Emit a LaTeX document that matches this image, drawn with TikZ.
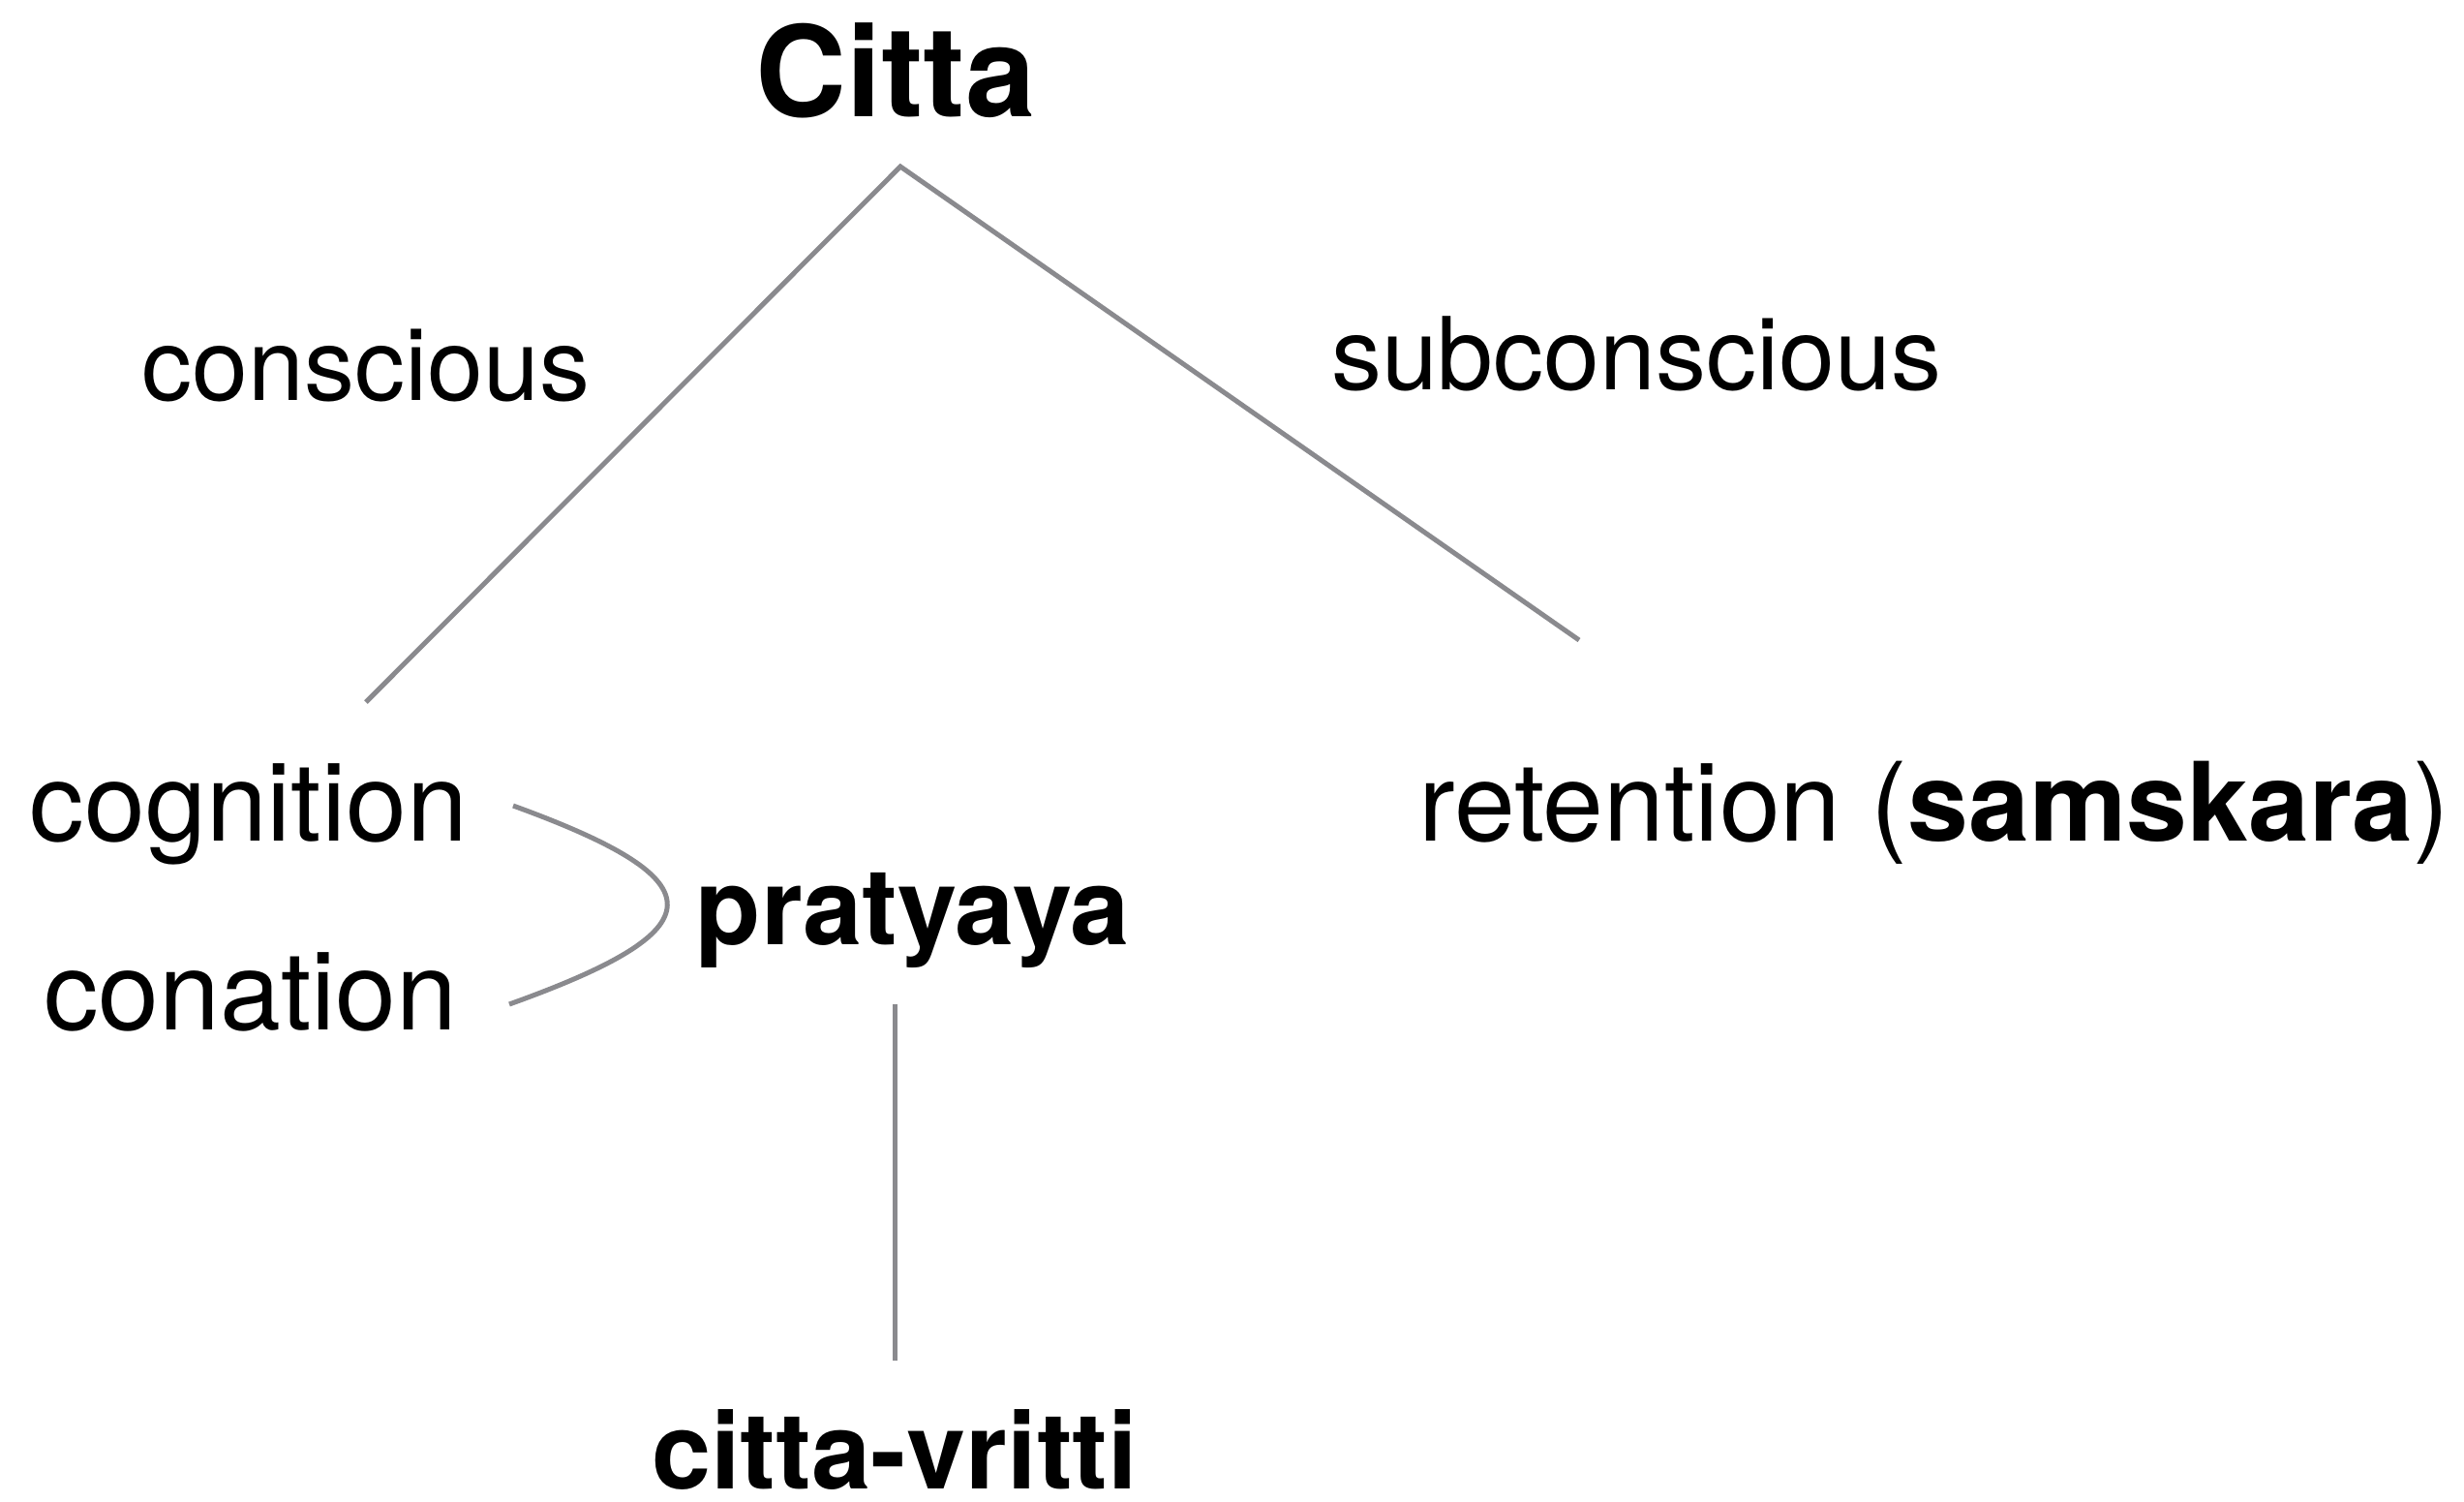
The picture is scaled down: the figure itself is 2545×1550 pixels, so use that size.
\documentclass[tikz,border=0pt]{standalone}
\usepackage{fontspec}
\setmainfont{TeX Gyre Heros}
\definecolor{linegray}{RGB}{138,138,142}
\tikzset{
  conn/.style={draw=linegray, line width=5pt},
  lbl/.style={inner sep=0pt, anchor=base, font=\fontsize{104}{120}\selectfont},
  term/.style={inner sep=0pt, anchor=base, font=\fontsize{113}{130}\selectfont},
  keyterm/.style={inner sep=0pt, anchor=base, font=\fontsize{110}{130}\selectfont\bfseries},
  rootterm/.style={inner sep=0pt, anchor=base, font=\fontsize{130}{150}\selectfont\bfseries},
}
\begin{document}
\begin{tikzpicture}[x=1pt,y=-1pt]
\useasboundingbox[fill=white] (0,0) rectangle (2545,1550);

\node[rootterm] (citta) at (925,120) {Citta};
\node[lbl] (conscious) at (378,413) {conscious};
\node[lbl] (subconscious) at (1690,402) {subconscious};
\node[term] (cognition) at (257,868) {cognition};
\node[term] (conation) at (259,1063) {conation};
\node[keyterm] (pratyaya) at (943,975) {pratyaya};
\node[term] (retention) at (1998,868) {retention (\textbf{samskara})};
\node[keyterm] (vritti) at (924,1537) {citta-vritti};

\coordinate (apex) at (930,172);
\coordinate (leftend) at (378,725);
\coordinate (rightend) at (1631,661);
\coordinate (cogend) at (530,832);
\coordinate (conend) at (526,1037);
\coordinate (vtop) at (924,1037);
\coordinate (vbot) at (924,1405);

\draw[conn] (leftend) -- (apex) -- (rightend);
\draw[conn] (cogend) .. controls (745,910) and (741,960) .. (conend);
\draw[conn] (vtop) -- (vbot);
\end{tikzpicture}
\end{document}
